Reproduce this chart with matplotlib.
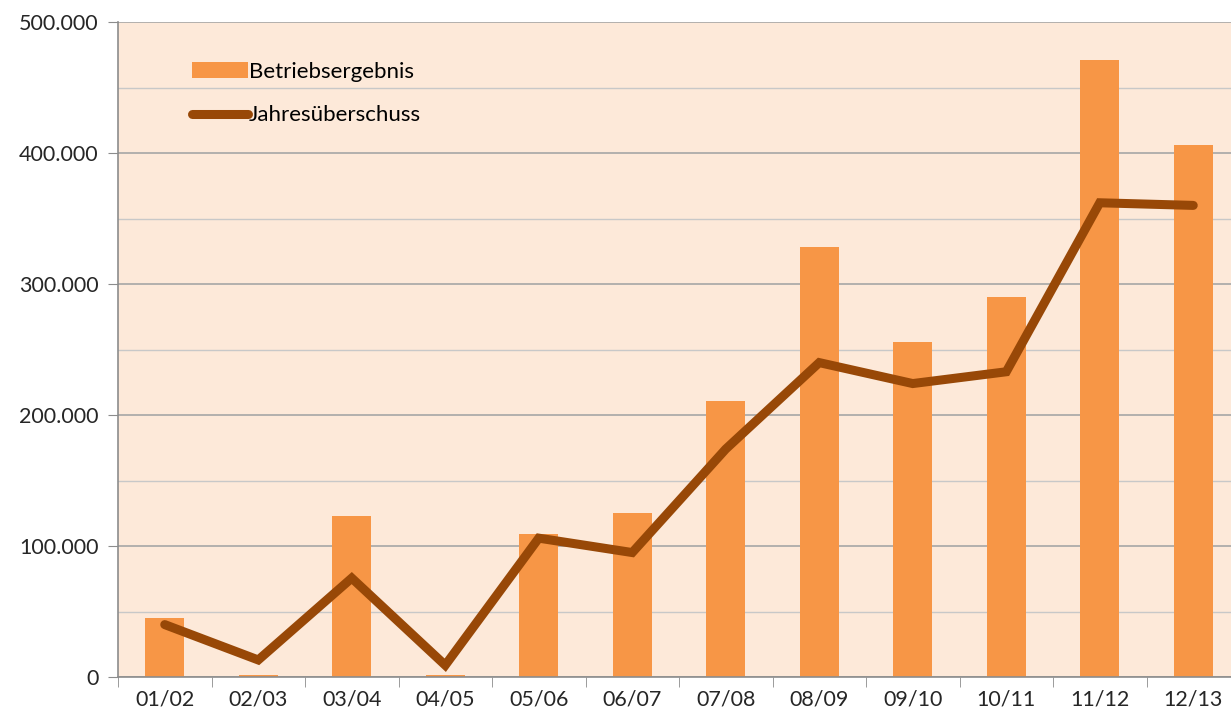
import numpy as np
import matplotlib.pyplot as plt
from matplotlib.ticker import FuncFormatter, MultipleLocator

years = ['01/02', '02/03', '03/04', '04/05', '05/06', '06/07',
         '07/08', '08/09', '09/10', '10/11', '11/12', '12/13']
betriebsergebnis = [45000, 1500, 123000, 1500, 109000, 125000,
                    211000, 328000, 256000, 290000, 471000, 406000]
jahresueberschuss = [40000, 13000, 75500, 9000, 106000, 95000,
                     174000, 240000, 224000, 233000, 362000, 360000]

plt.rcParams['font.family'] = ['Lato', 'DejaVu Sans']

W, H = 1231, 718
fig = plt.figure(figsize=(W / 100, H / 100), dpi=100)
left, right, top, bottom = 118, 1240, 22, 677
ax = fig.add_axes([left / W, 1 - bottom / H, (right - left) / W, (bottom - top) / H])
ax.set_facecolor('#FDE9D9')

x = np.arange(len(years))
bars = ax.bar(x, betriebsergebnis, width=0.42, color='#F79646', label='Betriebsergebnis', zorder=2)
line, = ax.plot(x, jahresueberschuss, color='#984807', lw=6.5, solid_capstyle='round',
                solid_joinstyle='miter', label='Jahresüberschuss', zorder=3)

ax.set_xlim(-0.5, len(years) - 0.5)
ax.set_ylim(0, 500000)
ax.yaxis.set_major_locator(MultipleLocator(100000))
ax.yaxis.set_minor_locator(MultipleLocator(50000))
ax.yaxis.set_major_formatter(FuncFormatter(lambda v, p: '0' if v == 0 else f'{int(v):,}'.replace(',', '.')))
ax.grid(axis='y', which='major', color='#A6A6A6', lw=1.2, zorder=1)
ax.grid(axis='y', which='minor', color='#C8C8C8', lw=1.0, zorder=1)

ax.set_xticks(x)
ax.set_xticklabels(years)
ax.set_xticks(np.arange(-0.5, len(years), 1), minor=True)
ax.tick_params(axis='x', which='major', length=0, pad=9, labelsize=15.5, labelcolor='#262626')
ax.tick_params(axis='x', which='minor', length=7, color='#8C8C8C', direction='out')
ax.tick_params(axis='y', which='major', length=7, color='#8C8C8C', pad=7, labelsize=15.5, labelcolor='#262626')
ax.tick_params(axis='y', which='minor', length=0)

for s in ['top', 'right']:
    ax.spines[s].set_visible(False)
for s in ['left', 'bottom']:
    ax.spines[s].set_color('#8C8C8C')
    ax.spines[s].set_linewidth(1.2)

ax.legend(handles=[bars, line], loc='upper left', bbox_to_anchor=(192 / W, 1 - 62 / H),
          bbox_transform=fig.transFigure, frameon=False, fontsize=16,
          handlelength=2.5, handletextpad=0.05, labelspacing=1.05,
          borderaxespad=0, borderpad=0)

fig.savefig('out.png', dpi=100)
